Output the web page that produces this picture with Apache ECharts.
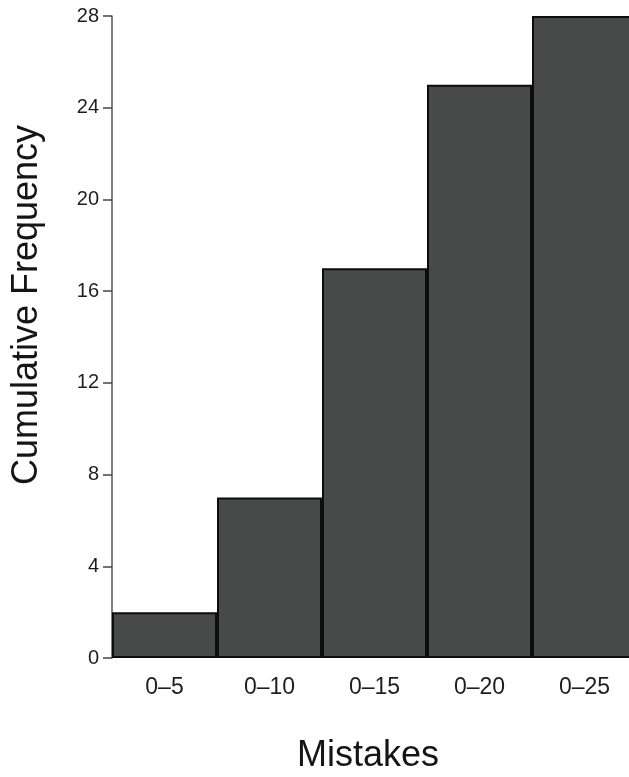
<!DOCTYPE html>
<html>
<head>
<meta charset="utf-8">
<script src="https://cdn.jsdelivr.net/npm/echarts@6/dist/echarts.min.js"></script>
<style>
  html, body { margin: 0; padding: 0; background: #ffffff; }
  #chart { width: 629px; height: 777px; }
</style>
</head>
<body>
<div id="chart"></div>
<script>
// Cumulative frequency of mistakes per class interval
const categories = ['0–5', '0–10', '0–15', '0–20', '0–25'];
const cumulativeFrequency = [2, 7, 17, 25, 28];
const yTicks = [0, 4, 8, 12, 16, 20, 24, 28];
const xTitle = 'Mistakes';
const yTitle = 'Cumulative Frequency';

const chart = echarts.init(document.getElementById('chart'));
const font = 'Liberation Sans, Arial, sans-serif';

chart.setOption({
  animation: false,
  backgroundColor: '#ffffff',
  grid: {
    left: 112, right: -8, top: 16, bottom: 119,
    containLabel: false,
    outerBoundsMode: 'none'
  },
  // axis titles placed as free text so they can sit off-centre
  graphic: [
    {
      type: 'text',
      x: 368, y: 756,
      style: {
        text: xTitle, fontFamily: font, fontSize: 36, fill: '#151515',
        align: 'center', verticalAlign: 'middle'
      }
    },
    {
      type: 'text',
      x: 27, y: 305,
      rotation: Math.PI / 2,
      style: {
        text: yTitle, fontFamily: font, fontSize: 36, fill: '#151515',
        align: 'center', verticalAlign: 'middle'
      }
    }
  ],
  xAxis: {
    type: 'category',
    data: categories,
    axisLine: { show: false },
    axisTick: { show: false },
    axisLabel: { fontFamily: font, fontSize: 23, color: '#1e1e1e', margin: 18 }
  },
  yAxis: {
    type: 'value',
    min: yTicks[0],
    max: yTicks[yTicks.length - 1],
    interval: 4,
    axisLine: { show: true, lineStyle: { color: '#555', width: 1.5 } },
    axisTick: { show: true, length: 9, inside: false, lineStyle: { color: '#444', width: 1.5 } },
    axisLabel: { fontFamily: font, fontSize: 20, color: '#1e1e1e', margin: 13 },
    splitLine: { show: false }
  },
  series: [{
    type: 'bar',
    data: cumulativeFrequency,
    barWidth: '100%',
    barCategoryGap: '0%',
    itemStyle: {
      color: '#484949',
      borderColor: '#0d0d0d',
      borderWidth: 2
    }
  }]
});
</script>
</body>
</html>
